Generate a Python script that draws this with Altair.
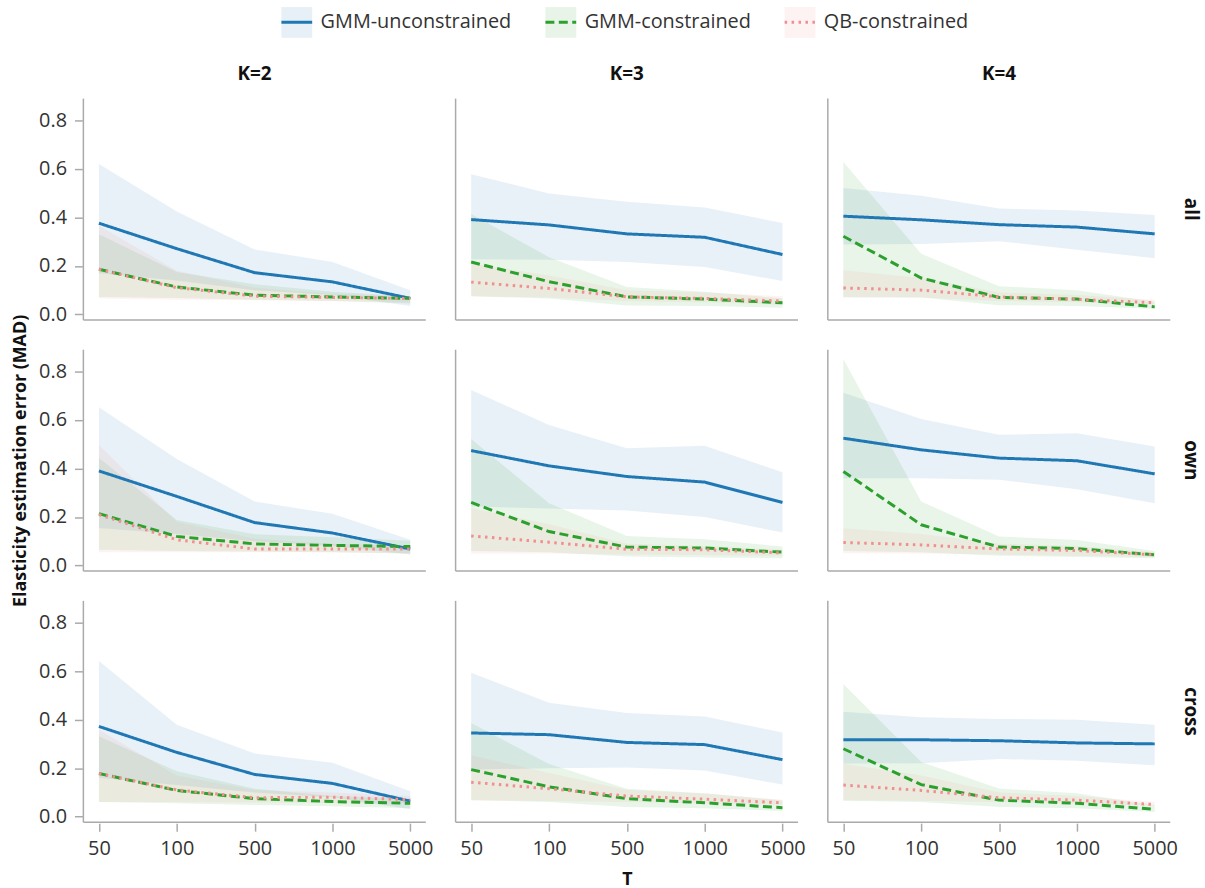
import altair as alt
import pandas as pd

T_VALUES = ["50", "100", "500", "1000", "5000"]
K_LABELS = ["K=2", "K=3", "K=4"]
STATS = ["all", "own", "cross"]
METHODS = ["GMM-unconstrained", "GMM-constrained", "QB-constrained"]
LINE_COLORS = ["#1f77b4", "#2ca02c", "#f28e8e"]
DASHES = [[1, 0], [9, 4.5], [2.5, 4.5]]

# each entry: stat -> [K=2 list, K=3 list, K=4 list] over T_VALUES
gu_mid = {
    "all":   [[0.376, 0.271, 0.172, 0.134, 0.066], [0.391, 0.369, 0.332, 0.318, 0.247], [0.405, 0.390, 0.370, 0.360, 0.332]],
    "own":   [[0.390, 0.285, 0.177, 0.134, 0.068], [0.474, 0.411, 0.367, 0.344, 0.260], [0.525, 0.477, 0.443, 0.432, 0.378]],
    "cross": [[0.372, 0.265, 0.174, 0.137, 0.064], [0.345, 0.338, 0.306, 0.297, 0.235], [0.317, 0.317, 0.313, 0.304, 0.300]],
}
gu_lo = {
    "all":   [[0.170, 0.140, 0.100, 0.080, 0.035], [0.227, 0.225, 0.216, 0.195, 0.138], [0.288, 0.290, 0.302, 0.267, 0.232]],
    "own":   [[0.155, 0.130, 0.100, 0.080, 0.045], [0.243, 0.235, 0.227, 0.200, 0.136], [0.360, 0.360, 0.354, 0.315, 0.257]],
    "cross": [[0.160, 0.130, 0.100, 0.080, 0.030], [0.194, 0.200, 0.203, 0.190, 0.132], [0.219, 0.220, 0.238, 0.230, 0.212]],
}
gu_hi = {
    "all":   [[0.620, 0.424, 0.268, 0.216, 0.100], [0.578, 0.499, 0.465, 0.441, 0.377], [0.521, 0.489, 0.437, 0.428, 0.410]],
    "own":   [[0.653, 0.439, 0.264, 0.213, 0.106], [0.724, 0.580, 0.484, 0.494, 0.385], [0.713, 0.604, 0.539, 0.546, 0.491]],
    "cross": [[0.642, 0.379, 0.260, 0.222, 0.105], [0.593, 0.470, 0.427, 0.413, 0.347], [0.433, 0.410, 0.403, 0.400, 0.379]],
}
gc_mid = {
    "all":   [[0.186, 0.113, 0.079, 0.072, 0.066], [0.216, 0.135, 0.072, 0.063, 0.048], [0.322, 0.150, 0.070, 0.063, 0.031]],
    "own":   [[0.214, 0.120, 0.089, 0.083, 0.078], [0.260, 0.140, 0.076, 0.072, 0.055], [0.388, 0.168, 0.076, 0.070, 0.044]],
    "cross": [[0.178, 0.108, 0.074, 0.062, 0.055], [0.194, 0.123, 0.074, 0.057, 0.037], [0.280, 0.132, 0.068, 0.055, 0.030]],
}
gc_lo = {
    "all":   [[0.072, 0.068, 0.060, 0.055, 0.045], [0.075, 0.065, 0.037, 0.035, 0.027], [0.070, 0.070, 0.038, 0.035, 0.023]],
    "own":   [[0.065, 0.060, 0.058, 0.055, 0.050], [0.060, 0.055, 0.037, 0.033, 0.030], [0.060, 0.055, 0.040, 0.035, 0.030]],
    "cross": [[0.060, 0.055, 0.048, 0.043, 0.035], [0.068, 0.060, 0.040, 0.035, 0.023], [0.065, 0.060, 0.040, 0.035, 0.019]],
}
gc_hi = {
    "all":   [[0.330, 0.175, 0.124, 0.093, 0.075], [0.414, 0.236, 0.113, 0.093, 0.066], [0.629, 0.250, 0.116, 0.100, 0.052]],
    "own":   [[0.443, 0.188, 0.129, 0.116, 0.102], [0.522, 0.257, 0.122, 0.108, 0.078], [0.851, 0.264, 0.120, 0.105, 0.060]],
    "cross": [[0.331, 0.187, 0.115, 0.085, 0.074], [0.386, 0.217, 0.115, 0.096, 0.067], [0.547, 0.225, 0.116, 0.096, 0.047]],
}
qb_mid = {
    "all":   [[0.186, 0.110, 0.075, 0.070, 0.065], [0.133, 0.107, 0.072, 0.066, 0.055], [0.109, 0.100, 0.072, 0.062, 0.048]],
    "own":   [[0.210, 0.106, 0.068, 0.068, 0.068], [0.122, 0.096, 0.067, 0.065, 0.052], [0.095, 0.085, 0.068, 0.062, 0.044]],
    "cross": [[0.178, 0.110, 0.078, 0.080, 0.070], [0.142, 0.115, 0.085, 0.072, 0.057], [0.130, 0.108, 0.078, 0.068, 0.050]],
}
qb_lo = {
    "all":   [[0.065, 0.060, 0.058, 0.055, 0.050], [0.075, 0.070, 0.055, 0.050, 0.040], [0.072, 0.070, 0.055, 0.050, 0.040]],
    "own":   [[0.055, 0.055, 0.055, 0.055, 0.050], [0.050, 0.050, 0.045, 0.043, 0.040], [0.051, 0.050, 0.045, 0.040, 0.035]],
    "cross": [[0.060, 0.060, 0.058, 0.056, 0.055], [0.068, 0.064, 0.060, 0.055, 0.050], [0.068, 0.065, 0.060, 0.055, 0.045]],
}
qb_hi = {
    "all":   [[0.366, 0.180, 0.110, 0.085, 0.075], [0.210, 0.160, 0.100, 0.090, 0.075], [0.182, 0.150, 0.090, 0.080, 0.060]],
    "own":   [[0.497, 0.180, 0.110, 0.090, 0.080], [0.237, 0.170, 0.090, 0.080, 0.065], [0.154, 0.130, 0.090, 0.080, 0.055]],
    "cross": [[0.358, 0.170, 0.110, 0.100, 0.085], [0.253, 0.180, 0.110, 0.095, 0.070], [0.218, 0.170, 0.100, 0.085, 0.060]],
}

series = {
    "GMM-unconstrained": (gu_mid, gu_lo, gu_hi),
    "GMM-constrained": (gc_mid, gc_lo, gc_hi),
    "QB-constrained": (qb_mid, qb_lo, qb_hi),
}

# the line legend gets its own (zero-width-marked) domain so Vega-Lite keeps it apart from the band legend
ZW = "\u200b"
LINE_DOMAIN = [m + ZW for m in METHODS]

rows = []
for m_i, method in enumerate(METHODS):
    mid, lo, hi = series[method]
    for stat in STATS:
        for k_i, k in enumerate(K_LABELS):
            for t_i, t in enumerate(T_VALUES):
                rows.append({
                    "method": method, "series": method + ZW, "order": m_i, "stat": stat, "K": k, "T": t,
                    "mid": mid[stat][k_i][t_i], "lo": lo[stat][k_i][t_i], "hi": hi[stat][k_i][t_i],
                })
df = pd.DataFrame(rows)

PW, PH = 345, 223
FONT = "Open Sans"
AXIS_GREY = "#aaaaaa"
TEXT = "#333333"
LEG_X, LEG_Y = 198, -94

x_enc = alt.X(
    "T:N", sort=T_VALUES, scale=alt.Scale(type="point", padding=0.2),
    axis=alt.Axis(title=None, labelAngle=0, domain=False, grid=False, ticks=True,
                  tickColor=AXIS_GREY, tickSize=8, tickWidth=1.5, labelPadding=8,
                  labelFont=FONT, labelFontSize=20, labelColor=TEXT),
)
y_scale = alt.Scale(domain=[-0.023, 0.89], nice=False, zero=False)
y_axis = alt.Axis(title=None, values=[0, 0.2, 0.4, 0.6, 0.8], format=".1f", domain=False, grid=False,
                  tickColor=AXIS_GREY, tickSize=8, tickWidth=1.5, labelPadding=8,
                  labelFont=FONT, labelFontSize=20, labelColor=TEXT)

common_legend = dict(
    orient="none", legendX=LEG_X, legendY=LEG_Y, direction="horizontal", title=None,
    labelFont=FONT, labelFontSize=20, labelColor=TEXT, labelOffset=7, labelLimit=0,
    columnPadding=27, symbolSize=961, symbolStrokeWidth=3, padding=0,
)

area = alt.Chart().mark_area(opacity=0.1).encode(
    x=x_enc,
    y=alt.Y("lo:Q", scale=y_scale, axis=y_axis),
    y2="hi:Q",
    fill=alt.Fill("method:N", scale=alt.Scale(domain=METHODS, range=LINE_COLORS),
                  legend=alt.Legend(symbolType="square", symbolOpacity=0.1,
                                    symbolStrokeColor="transparent", labelOpacity=0,
                                    **common_legend)),
    order="order:Q",
)

line_legend = alt.Legend(symbolType="stroke", **common_legend)
line = alt.Chart().mark_line(strokeWidth=3, strokeCap="butt").encode(
    x=x_enc,
    y=alt.Y("mid:Q", scale=y_scale, axis=y_axis),
    stroke=alt.Stroke("series:N", scale=alt.Scale(domain=LINE_DOMAIN, range=LINE_COLORS), legend=line_legend),
    strokeDash=alt.StrokeDash("series:N", scale=alt.Scale(domain=LINE_DOMAIN, range=DASHES), legend=line_legend),
)

one_row = "datum.method == 'GMM-unconstrained' && datum.T == '50'"
left_rule = alt.Chart().mark_rule(color=AXIS_GREY, strokeWidth=1.5).encode(
    x=alt.value(0), y=alt.value(0), y2=alt.value(PH)
).transform_filter(one_row)
bottom_rule = alt.Chart().mark_rule(color=AXIS_GREY, strokeWidth=1.5).encode(
    x=alt.value(0), x2=alt.value(PW), y=alt.value(PH)
).transform_filter(one_row)

layered = alt.layer(area, line, left_rule, bottom_rule, data=df).properties(width=PW, height=PH)

chart = layered.facet(
    row=alt.Row("stat:N", sort=STATS, header=alt.Header(
        title="Elasticity estimation error (MAD)", titleOrient="left", titleAngle=270,
        titleFont=FONT, titleFontSize=18, titleFontWeight="bold", titleColor="#111", titlePadding=-20,
        labelOrient="right", labelAngle=90, labelFont=FONT, labelFontSize=19,
        labelFontWeight="bold", labelColor="#111", labelPadding=10)),
    column=alt.Column("K:N", sort=K_LABELS, header=alt.Header(
        title="T", titleOrient="bottom",
        titleFont=FONT, titleFontSize=18, titleFontWeight="bold", titleColor="#111", titlePadding=2,
        labelOrient="top", labelFont=FONT, labelFontSize=19, labelFontWeight="bold",
        labelColor="#111", labelPadding=14)),
    spacing=28,
).properties(
    padding={"left": 11, "top": 2, "right": 5, "bottom": 2}
).configure(font=FONT).configure_view(stroke=None)

chart.save("out.html", embed_options={"renderer": "svg", "actions": False})
